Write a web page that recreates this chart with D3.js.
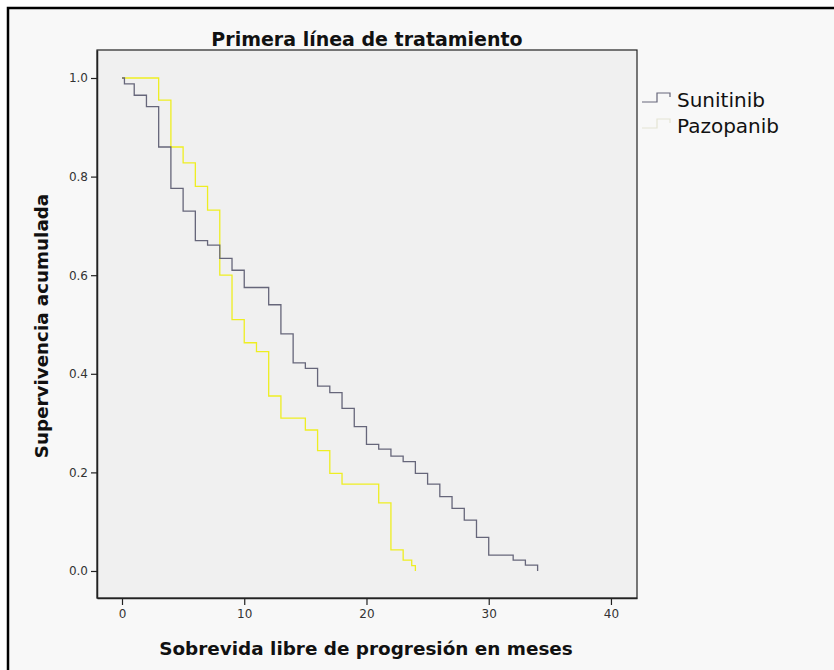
<!DOCTYPE html>
<html>
<head>
<meta charset="utf-8">
<script src="https://cdn.jsdelivr.net/npm/d3@7"></script>
<style>
  html, body { margin: 0; padding: 0; background: #ffffff; }
  svg { display: block; }
</style>
</head>
<body>
<div id="km-plot"></div>
<script>
// Kaplan-Meier steps (months, cumulative survival)
const sunitinibTime = [0, 0.2, 1, 2, 3, 4, 5, 6, 7, 8, 9, 10, 12, 13, 14, 15, 16, 17, 18, 19, 20, 21, 22, 23, 24, 25, 26, 27, 28, 29, 30, 32, 33, 34];
const sunitinibSurv = [1.0, 0.988, 0.965, 0.942, 0.86, 0.776, 0.73, 0.67, 0.661, 0.634, 0.61, 0.575, 0.54, 0.481, 0.422, 0.411, 0.375, 0.362, 0.33, 0.293, 0.257, 0.247, 0.233, 0.222, 0.198, 0.176, 0.151, 0.127, 0.103, 0.068, 0.032, 0.022, 0.012, 0.0];

const pazopanibTime = [0, 3, 4, 5, 6, 7, 8, 9, 10, 11, 12, 13, 15, 16, 17, 18, 21, 22, 23, 23.7, 24];
const pazopanibSurv = [1.0, 0.955, 0.86, 0.828, 0.78, 0.732, 0.6, 0.51, 0.463, 0.445, 0.355, 0.31, 0.286, 0.244, 0.198, 0.176, 0.138, 0.043, 0.022, 0.011, 0.0];

const seriesNames = ["Sunitinib", "Pazopanib"];
const xTicks = [0, 10, 20, 30, 40];
const yTicks = [0.0, 0.2, 0.4, 0.6, 0.8, 1.0];

const titleText = "Primera línea de tratamiento";
const xTitle = "Sobrevida libre de progresión en meses";
const yTitle = "Supervivencia acumulada";

const W = 834, H = 670;
const plot = { left: 97, top: 50, right: 637, bottom: 598 };
const lineColor = { Sunitinib: "#66667a", Pazopanib: "#eeee22" };
const keyColor = { Sunitinib: "#66667a", Pazopanib: "#e4e4d4" };

const svg = d3.select("#km-plot")
  .append("svg")
  .attr("width", W)
  .attr("height", H);

// outer frame
svg.append("rect")
  .attr("x", 8).attr("y", 8)
  .attr("width", W + 10).attr("height", H + 10)
  .attr("fill", "#f8f8f8")
  .attr("stroke", "#000")
  .attr("stroke-width", 2.5);

// plot area
svg.append("rect")
  .attr("x", plot.left).attr("y", plot.top)
  .attr("width", plot.right - plot.left)
  .attr("height", plot.bottom - plot.top)
  .attr("fill", "#f0f0f0")
  .attr("stroke", "#222")
  .attr("stroke-width", 1.2);

const x = d3.scaleLinear().domain([-2.045, 42.13]).range([plot.left, plot.right]);
const y = d3.scaleLinear().domain([-0.0548, 1.0568]).range([plot.bottom, plot.top]);

const xAxis = svg.append("g")
  .attr("transform", "translate(0," + plot.bottom + ")")
  .call(d3.axisBottom(x).tickValues(xTicks).tickSize(7).tickSizeOuter(0).tickPadding(4).tickFormat(d3.format("d")));

const yAxis = svg.append("g")
  .attr("transform", "translate(" + plot.left + ",0)")
  .call(d3.axisLeft(y).tickValues(yTicks).tickSize(6).tickSizeOuter(0).tickPadding(3).tickFormat(d3.format(".1f")));

[xAxis, yAxis].forEach((g) => {
  g.select(".domain").attr("stroke", "#222").attr("stroke-width", 1.5);
  g.selectAll(".tick line").attr("stroke", "#222").attr("stroke-width", 1.2);
  g.selectAll(".tick text")
    .style("font-family", "DejaVu Sans")
    .style("font-size", "12px")
    .attr("fill", "#333");
});

// survival curves
const line = d3.line()
  .x((d) => x(d[0]))
  .y((d) => y(d[1]))
  .curve(d3.curveStepAfter);

const curves = [
  { name: "Pazopanib", pts: d3.zip(pazopanibTime, pazopanibSurv) },
  { name: "Sunitinib", pts: d3.zip(sunitinibTime, sunitinibSurv) }
];

svg.selectAll(".km")
  .data(curves)
  .enter()
  .append("path")
  .attr("class", "km")
  .attr("d", (d) => line(d.pts))
  .attr("fill", "none")
  .attr("stroke", (d) => lineColor[d.name])
  .attr("stroke-width", 1.3);

// legend
const legend = svg.append("g").attr("transform", "translate(642,0)");
seriesNames.forEach((name, i) => {
  const cy = 102 + i * 26;
  legend.append("path")
    .attr("d", "M0," + cy + "H15V" + (cy - 9) + "H28V" + (cy - 5))
    .attr("fill", "none")
    .attr("stroke", keyColor[name])
    .attr("stroke-width", 1.2);
  legend.append("text")
    .attr("x", 35)
    .attr("y", cy + 5)
    .text(name)
    .style("font-family", "DejaVu Sans")
    .style("font-size", "20px")
    .attr("fill", "#111");
});

// titles
svg.append("text")
  .attr("x", (plot.left + plot.right) / 2)
  .attr("y", 46)
  .attr("text-anchor", "middle")
  .text(titleText)
  .style("font-family", "DejaVu Sans")
  .style("font-weight", "bold")
  .style("font-size", "19px")
  .attr("fill", "#111");

svg.append("text")
  .attr("x", (plot.left + plot.right) / 2 - 1)
  .attr("y", 655)
  .attr("text-anchor", "middle")
  .text(xTitle)
  .style("font-family", "DejaVu Sans")
  .style("font-weight", "bold")
  .style("font-size", "18.4px")
  .attr("fill", "#111");

svg.append("text")
  .attr("transform", "translate(48,326) rotate(-90)")
  .attr("text-anchor", "middle")
  .text(yTitle)
  .style("font-family", "DejaVu Sans")
  .style("font-weight", "bold")
  .style("font-size", "18.3px")
  .attr("fill", "#111");
</script>
</body>
</html>
